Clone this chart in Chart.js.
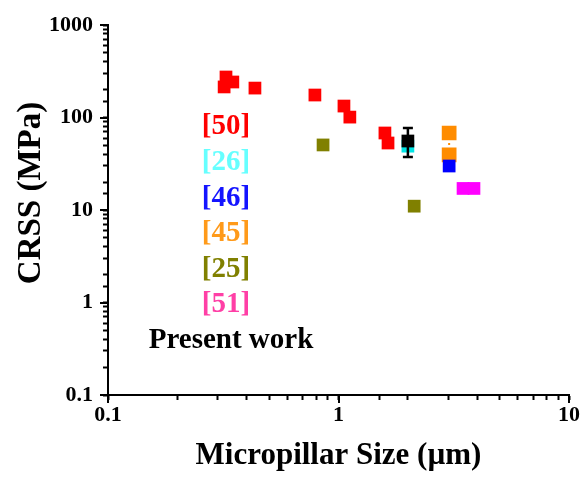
<!DOCTYPE html>
<html>
<head>
<meta charset="utf-8">
<script src="https://cdn.jsdelivr.net/npm/chart.js@4/dist/chart.umd.min.js"></script>
<style>
html, body { margin: 0; padding: 0; background: #fff; }
</style>
</head>
<body>
<canvas id="crss-chart" width="582" height="478"></canvas>
<script>
// micropillar size (um) and CRSS (MPa) per reference
const ref50Size = [0.325, 0.319, 0.348, 0.434, 0.79, 1.056, 1.12, 1.59, 1.64];
const ref50Crss = [274, 214, 242, 208, 175, 133, 101, 68, 53];
const ref26Size = [2.0];
const ref26Crss = [49];
const ref46Size = [3.02];
const ref46Crss = [29.9];
const ref45Size = [3.02, 3.02];
const ref45Crss = [68, 39.4];
const ref25Size = [0.857, 2.13];
const ref25Crss = [50.5, 11.0];
const ref51Size = [3.47, 3.87];
const ref51Crss = [17.1, 17.1];
const presentSize = [2.0];
const presentCrss = [55.7];
const presentLow = [37.4];
const presentHigh = [76.9];

const legendTexts = ['[50]', '[26]', '[46]', '[45]', '[25]', '[51]', 'Present work'];
const legendColors = ['#ff0000', '#66ffff', '#1414ff', '#ff9a1a', '#808000', '#ff3fa6', '#000000'];

const serif = "'Liberation Serif', 'Times New Roman', serif";

function toPoints(xs, ys) {
    return xs.map((x, i) => ({ x: x, y: ys[i] }));
}

function isDecade(v) {
    const p = Math.log10(v);
    return Math.abs(p - Math.round(p)) < 1e-6;
}

function decadeLabel(v) {
    if (!isDecade(v)) return '';
    const p = Math.round(Math.log10(v));
    return p < 0 ? v.toFixed(-p) : String(Math.round(v));
}

// decades inside the axis range
function decades(min, max) {
    const out = [];
    for (let e = Math.ceil(Math.log10(min) - 1e-9); e <= Math.floor(Math.log10(max) + 1e-9); e++) {
        out.push(Math.pow(10, e));
    }
    return out;
}

function squareSet(label, xs, ys, color, radius) {
    return {
        label: label,
        data: toPoints(xs, ys),
        pointStyle: 'rect',
        pointRadius: radius || 9,
        pointHoverRadius: radius || 9,
        backgroundColor: color,
        borderColor: color,
        borderWidth: 0
    };
}

const orangeSet = squareSet('[45]', ref45Size, ref45Crss, '#ff8c00');
orangeSet.showLine = true;
orangeSet.borderWidth = 2;
orangeSet.borderDash = [2, 3];

const datasets = [
    squareSet('Present work', presentSize, presentCrss, '#000000'),
    squareSet('[46]', ref46Size, ref46Crss, '#0000ff'),
    squareSet('[51]', ref51Size, ref51Crss, '#ff00ff'),
    squareSet('[50]', ref50Size, ref50Crss, '#ff0000'),
    squareSet('[25]', ref25Size, ref25Crss, '#808000'),
    squareSet('[26]', ref26Size, ref26Crss, '#00e5e5'),
    orangeSet
];

// error bar of present work, longer decade ticks, titles and the text legend
const extras = {
    id: 'extras',
    afterDatasetsDraw(chart) {
        const ctx = chart.ctx;
        const xs = chart.scales.x, ys = chart.scales.y;
        ctx.save();
        ctx.strokeStyle = '#000';
        ctx.lineWidth = 2.5;
        presentSize.forEach((s, i) => {
            const px = xs.getPixelForValue(s);
            const lo = ys.getPixelForValue(presentLow[i]);
            const hi = ys.getPixelForValue(presentHigh[i]);
            ctx.beginPath();
            ctx.moveTo(px, lo); ctx.lineTo(px, hi);
            ctx.moveTo(px - 5, lo); ctx.lineTo(px + 5, lo);
            ctx.moveTo(px - 5, hi); ctx.lineTo(px + 5, hi);
            ctx.stroke();
        });
        ctx.restore();
    },
    afterDraw(chart) {
        const ctx = chart.ctx;
        const xs = chart.scales.x, ys = chart.scales.y;
        const area = chart.chartArea;
        ctx.save();
        ctx.fillStyle = '#000000';
        decades(xs.min, xs.max).forEach(v => {
            const px = Math.round(xs.getPixelForValue(v));
            ctx.fillRect(px - 1, area.bottom, 2, 8);
        });
        decades(ys.min, ys.max).forEach(v => {
            const py = Math.round(ys.getPixelForValue(v));
            ctx.fillRect(area.left - 8, py - 1, 8, 2);
        });

        ctx.textAlign = 'center';
        ctx.textBaseline = 'middle';
        ctx.font = 'bold 31px ' + serif;
        ctx.fillText('Micropillar Size (µm)', (area.left + area.right) / 2, 456);
        ctx.save();
        ctx.translate(31, (area.top + area.bottom) / 2 - 17);
        ctx.rotate(-Math.PI / 2);
        ctx.font = 'bold 33px ' + serif;
        ctx.fillText('CRSS (MPa)', 0, 0);
        ctx.restore();

        ctx.font = 'bold 29px ' + serif;
        legendTexts.forEach((txt, i) => {
            ctx.fillStyle = legendColors[i];
            const cx = area.left + (i === legendTexts.length - 1 ? 123 : 118);
            ctx.fillText(txt, cx, area.top + 102 + i * 35.6);
        });
        ctx.restore();
    }
};

const tickFont = { family: serif, size: 22, weight: 'bold' };

new Chart(document.getElementById('crss-chart'), {
    type: 'scatter',
    data: { datasets: datasets },
    options: {
        responsive: false,
        animation: false,
        layout: { padding: { top: 25, right: 13, left: 0, bottom: 0 } },
        plugins: { legend: { display: false }, tooltip: { enabled: false } },
        scales: {
            x: {
                type: 'logarithmic',
                min: 0.1,
                max: 10,
                border: { display: true, color: '#000', width: 2 },
                grid: { drawOnChartArea: false, drawTicks: true, tickLength: 5, tickWidth: 2, tickColor: '#000' },
                ticks: { autoSkip: false, maxRotation: 0, padding: 2, color: '#000', font: tickFont, callback: decadeLabel },
                afterFit: s => { s.height = 83; }
            },
            y: {
                type: 'logarithmic',
                min: 0.1,
                max: 1000,
                border: { display: true, color: '#000', width: 2 },
                grid: { drawOnChartArea: false, drawTicks: true, tickLength: 5, tickWidth: 2, tickColor: '#000' },
                ticks: { autoSkip: false, padding: 10, color: '#000', font: tickFont, callback: decadeLabel },
                afterFit: s => { s.width = 108; }
            }
        }
    },
    plugins: [extras]
});
</script>
</body>
</html>
